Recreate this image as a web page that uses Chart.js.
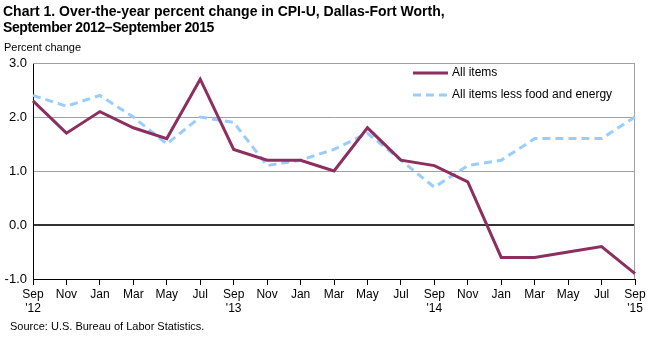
<!DOCTYPE html>
<html>
<head>
<meta charset="utf-8">
<script src="https://cdn.jsdelivr.net/npm/chart.js@4"></script>
<style>
  html, body { margin: 0; padding: 0; background: #fff; }
  #wrap { position: relative; width: 654px; height: 337px; overflow: hidden; font-family: "Liberation Sans", Arial, sans-serif; }
  #wrap canvas { position: absolute; left: 0; top: 0; }
  .title { position: absolute; left: 3px; top: 3px; font-weight: bold; font-size: 14px; line-height: 16px; color: #000; }
  .title span { letter-spacing: -0.4px; }
  .unit { position: absolute; left: 4px; top: 41px; font-size: 11px; color: #000; }
  .source { position: absolute; left: 10px; top: 320px; font-size: 11px; color: #000; }
</style>
</head>
<body>
<div id="wrap">
  <canvas id="cpiChart" width="654" height="337"></canvas>
  <div class="title">Chart 1. Over-the-year percent change in CPI-U, Dallas-Fort Worth,<br><span>September 2012–September 2015</span></div>
  <div class="unit">Percent change</div>
  <div class="source">Source: U.S. Bureau of Labor Statistics.</div>
</div>
<script>
// Données du graphique
const months = [
  ['Sep', "'12"], 'Nov', 'Jan', 'Mar', 'May', 'Jul',
  ['Sep', "'13"], 'Nov', 'Jan', 'Mar', 'May', 'Jul',
  ['Sep', "'14"], 'Nov', 'Jan', 'Mar', 'May', 'Jul',
  ['Sep', "'15"]
];
const allItems = [2.3, 1.7, 2.1, 1.8, 1.6, 2.7, 1.4, 1.2, 1.2, 1.0, 1.8, 1.2, 1.1, 0.8, -0.6, -0.6, -0.5, -0.4, -0.9];
const coreItems = [2.4, 2.2, 2.4, 2.0, 1.5, 2.0, 1.9, 1.1, 1.2, 1.4, 1.7, 1.2, 0.7, 1.1, 1.2, 1.6, 1.6, 1.6, 2.0];
const seriesNames = ['All items', 'All items less food and energy'];

// Cadre gris + légende dans la zone du graphique
const framePlugin = {
    id: 'frame',
    beforeDatasetsDraw(chart) {
        const { ctx, chartArea: a } = chart;
        ctx.save();
        ctx.strokeStyle = '#a0a0a0';
        ctx.lineWidth = 1;
        ctx.beginPath();
        ctx.moveTo(a.left, a.top + 0.5);
        ctx.lineTo(a.right - 0.5, a.top + 0.5);
        ctx.lineTo(a.right - 0.5, a.bottom);
        ctx.stroke();
        ctx.restore();
    },
    afterDraw(chart) {
        const ctx = chart.ctx;
        ctx.save();
        ctx.font = '12px "Liberation Sans", Arial, sans-serif';
        ctx.textBaseline = 'middle';
        ctx.fillStyle = '#000';
        chart.data.datasets.forEach(function(ds, i) {
            const y = 73 + i * 22;
            ctx.strokeStyle = ds.borderColor;
            ctx.lineWidth = ds.borderWidth;
            ctx.setLineDash(ds.borderDash || []);
            ctx.beginPath();
            ctx.moveTo(413, y);
            ctx.lineTo(448, y);
            ctx.stroke();
            ctx.setLineDash([]);
            ctx.fillText(ds.label, 452, y);
        });
        ctx.restore();
    }
};

function graph() {
    const ctx = document.getElementById('cpiChart').getContext('2d');
    new Chart(ctx, {
        type: 'line',
        data: {
            labels: months,
            datasets: [{
                label: seriesNames[0],
                data: allItems,
                borderColor: '#8c2f5f',
                borderWidth: 3,
                pointRadius: 0,
                tension: 0
            }, {
                label: seriesNames[1],
                data: coreItems,
                borderColor: '#99ccff',
                borderWidth: 3,
                borderDash: [8, 5],
                pointRadius: 0,
                tension: 0
            }]
        },
        options: {
            responsive: false,
            animation: false,
            layout: { padding: { top: 63, right: 19, left: 0, bottom: 0 } },
            plugins: {
                legend: { display: false },
                tooltip: { enabled: false }
            },
            scales: {
                x: {
                    offset: false,
                    grid: {
                        drawOnChartArea: false,
                        drawTicks: true,
                        tickLength: 6,
                        color: '#000'
                    },
                    border: { color: '#000', width: 1 },
                    ticks: {
                        color: '#000',
                        maxRotation: 0,
                        autoSkip: false,
                        padding: 2,
                        font: { family: '"Liberation Sans", Arial, sans-serif', size: 12 }
                    },
                    afterFit(scale) { scale.height = 58; }
                },
                y: {
                    min: -1,
                    max: 3,
                    ticks: {
                        stepSize: 1,
                        color: '#000',
                        padding: 6,
                        font: { family: '"Liberation Sans", Arial, sans-serif', size: 13 },
                        callback: function(v) { return v.toFixed(1); }
                    },
                    grid: {
                        drawTicks: false,
                        color: function(c) { return c.tick.value === 0 ? '#333333' : '#a0a0a0'; },
                        lineWidth: function(c) { return c.tick.value === 0 ? 2 : 1; }
                    },
                    border: { color: '#000', width: 1 },
                    afterFit(scale) { scale.width = 33; }
                }
            }
        },
        plugins: [framePlugin]
    });
}

document.addEventListener('DOMContentLoaded', function() {
    graph();
});
</script>
</body>
</html>
